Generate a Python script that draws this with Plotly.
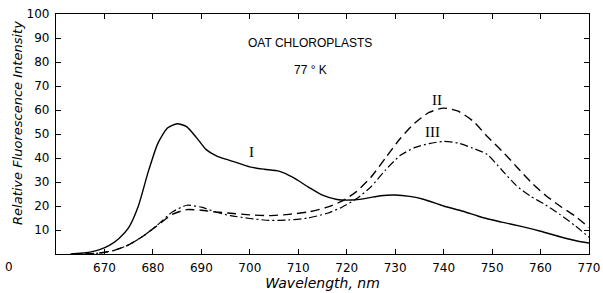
import plotly.graph_objects as go

# Curve I (solid)
wl_I = [663, 665, 667, 669, 671, 673, 675, 677, 679, 681, 683, 685, 687, 689, 691, 693, 695, 697,
        700, 703, 706, 709, 712, 715, 718, 721, 724, 727, 730, 733, 736, 740, 744, 748, 752, 756,
        760, 764, 768, 770]
val_I = [0, 0.3, 0.8, 1.8, 3.6, 6.5, 11, 20, 34, 46, 52.5, 54.3, 53, 48.5, 43.5, 41, 39.5, 38.3,
         36.3, 35.3, 34.5, 31.8, 28, 24.5, 22.7, 22.5, 23.2, 24.3, 24.6, 24, 22.7, 20, 17.8, 15.2,
         13.3, 11.5, 9.5, 7.2, 5.2, 4.6]

# Curve II (dashed)
wl_II = [666, 669, 672, 675, 678, 681, 684, 687, 690, 693, 696, 700, 704, 708, 712, 716, 719, 722,
         725, 728, 731, 734, 737, 740, 743, 746, 749, 752, 755, 758, 761, 764, 767, 770]
val_II = [0, 0.4, 1.5, 3.8, 7.5, 12, 16.5, 18.5, 18.2, 17.5, 17, 16.3, 16, 16.5, 17.5, 19.5, 22, 26,
          32, 40, 48, 54.5, 59, 60.8, 59.5, 55.5, 49, 43, 36.5, 30, 24.5, 20, 16, 11]

# Curve III (dash-dot)
wl_III = [666, 669, 672, 675, 678, 681, 684, 687, 690, 693, 696, 700, 704, 708, 712, 716, 719, 722,
          725, 728, 731, 734, 737, 740, 743, 746, 749, 752, 755, 758, 761, 764, 767, 770]
val_III = [0, 0.4, 1.5, 3.8, 7.5, 12.2, 17.5, 20.3, 19.5, 17.5, 16, 14.8, 14, 14.2, 15, 17, 19.5, 23,
           28, 35, 41, 44.3, 46, 46.9, 46.2, 44.1, 41.5, 35, 28.5, 24, 20.5, 16.5, 12, 7]

x_ticks = [670, 680, 690, 700, 710, 720, 730, 740, 750, 760, 770]
y_ticks = [10, 20, 30, 40, 50, 60, 70, 80, 90, 100]

fig = go.Figure()
fig.add_trace(go.Scatter(x=wl_I, y=val_I, mode="lines", line=dict(color="black", width=1.4, shape="spline", smoothing=0.6), showlegend=False))
fig.add_trace(go.Scatter(x=wl_II, y=val_II, mode="lines", line=dict(color="black", width=1.4, dash="9px,5px", shape="spline", smoothing=0.6), showlegend=False))
fig.add_trace(go.Scatter(x=wl_III, y=val_III, mode="lines", line=dict(color="black", width=1.2, dash="8px,3px,2px,3px", shape="spline", smoothing=0.6), showlegend=False))

serif = "Liberation Serif, Times New Roman, serif"
sans = "Liberation Sans, Arial, sans-serif"
c = dict(xanchor="center", yanchor="middle", showarrow=False)
ann = [
    dict(x=700.3, y=42.7, text="I", font=dict(family=serif, size=15, color="black"), **c),
    dict(x=738.6, y=64.3, text="II", font=dict(family=serif, size=15, color="black"), **c),
    dict(x=737.6, y=51, text="III", font=dict(family=serif, size=15, color="black"), **c),
    dict(x=0.477, y=0.88, xref="paper", yref="paper", text="OAT CHLOROPLASTS",
         font=dict(family=sans, size=12, color="black"), **c),
    dict(x=0.477, y=0.765, xref="paper", yref="paper", text="77 ° K",
         font=dict(family=sans, size=12, color="black"), **c),
    dict(x=-0.088, y=-0.054, xref="paper", yref="paper", text="0",
         font=dict(family="DejaVu Sans", size=12, color="black"), **c),
    dict(x=-0.0713, y=0.546, xref="paper", yref="paper", text="<i>Relative Fluorescence Intensity</i>",
         textangle=-90, font=dict(family="DejaVu Sans", size=13, color="black"), **c),
]

fig.update_layout(
    width=603, height=293,
    margin=dict(l=56, r=14, t=14, b=39),
    paper_bgcolor="white", plot_bgcolor="white",
    annotations=ann,
    xaxis=dict(range=[660, 770], tickvals=x_ticks, ticks="inside", ticklen=5, tickcolor="black",
               showline=True, linecolor="black", linewidth=1.2, mirror="ticks", showgrid=False,
               zeroline=False, tickfont=dict(family="DejaVu Sans", size=12, color="black"),
               ticklabelstandoff=2, automargin=False,
               title=dict(text="<i>Wavelength, nm</i>", font=dict(family="DejaVu Sans", size=14, color="black"), standoff=4)),
    yaxis=dict(range=[0, 100], tickvals=y_ticks, ticks="inside", ticklen=5, tickcolor="black",
               showline=True, linecolor="black", linewidth=1.2, mirror="ticks", showgrid=False,
               zeroline=False, tickfont=dict(family="DejaVu Sans", size=12, color="black"),
               ticklabelstandoff=3, automargin=False),
)

fig.write_html("out.html", config={"displayModeBar": False},
               post_script="document.body.style.margin='0';document.body.style.padding='0';")
